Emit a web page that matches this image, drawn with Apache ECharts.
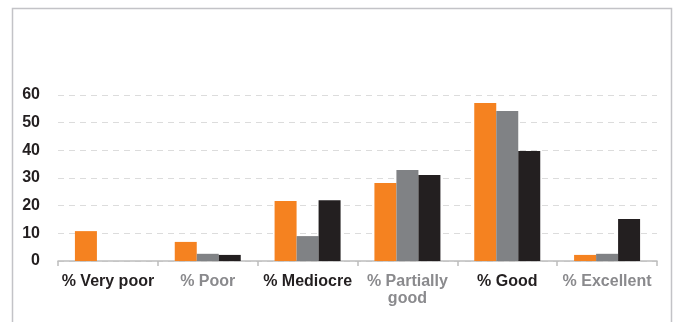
<!DOCTYPE html>
<html>
<head>
<meta charset="utf-8">
<script src="https://cdn.jsdelivr.net/npm/echarts@6/dist/echarts.min.js"></script>
<style>
html,body{margin:0;padding:0;background:#fff;}
#chart{width:678px;height:322px;}
</style>
</head>
<body>
<div id="chart"></div>
<script>
const categories = ['% Very poor', '% Poor', '% Mediocre', '% Partially\ngood', '% Good', '% Excellent'];
const seriesOrange = [10.8, 6.9, 21.7, 28.2, 57.1, 2.2];
const seriesGray = [0, 2.6, 9.0, 32.9, 54.2, 2.6];
const seriesBlack = [0, 2.2, 22.0, 31.1, 39.8, 15.2];
const yTicks = [0, 10, 20, 30, 40, 50, 60];

const chart = echarts.init(document.getElementById('chart'), null, {renderer: 'canvas'});
const font = 'Liberation Sans, Arial, Helvetica, sans-serif';
function bar(name, data, color) {
  return {
    name, type: 'bar', data, barWidth: 22, barGap: '0%',
    itemStyle: {color}, silent: true
  };
}
chart.setOption({
  animation: false,
  graphic: [{
    type: 'rect', left: 10, top: 6,
    shape: {width: 659, height: 400},
    style: {fill: 'none', stroke: '#c3c3c7', lineWidth: 1.5}
  }],
  grid: {left: 58, right: 21, top: 95, bottom: 61},
  xAxis: {
    type: 'category',
    data: categories,
    axisLine: {lineStyle: {color: '#bdbdbd', width: 1.5}},
    axisTick: {show: true, length: 5, lineStyle: {color: '#bdbdbd', width: 1.5}},
    axisLabel: {
      margin: 12,
      interval: 0,
      formatter: function (v, i) {
        const key = i % 2 === 0 ? 'b' : 'g';
        return v.split('\n').map(s => '{' + key + '|' + s + '}').join('\n');
      },
      rich: {
        b: {color: '#231f20', fontWeight: 'bold', fontSize: 16, fontFamily: font, lineHeight: 17},
        g: {color: '#8a8a8d', fontWeight: 'bold', fontSize: 16, fontFamily: font, lineHeight: 17}
      }
    }
  },
  yAxis: {
    type: 'value', min: 0, max: 60, interval: 10,
    axisLine: {show: false},
    axisTick: {show: false},
    axisLabel: {
      margin: 18, color: '#231f20', fontWeight: 'bold', fontSize: 16, fontFamily: font,
      formatter: v => yTicks.includes(v) ? String(v) : ''
    },
    splitLine: {lineStyle: {color: '#dcdcdc', type: [6, 5], width: 1}}
  },
  series: [
    bar('Orange', seriesOrange, '#f58220'),
    bar('Gray', seriesGray, '#808285'),
    bar('Black', seriesBlack, '#231f20')
  ]
});
</script>
</body>
</html>
